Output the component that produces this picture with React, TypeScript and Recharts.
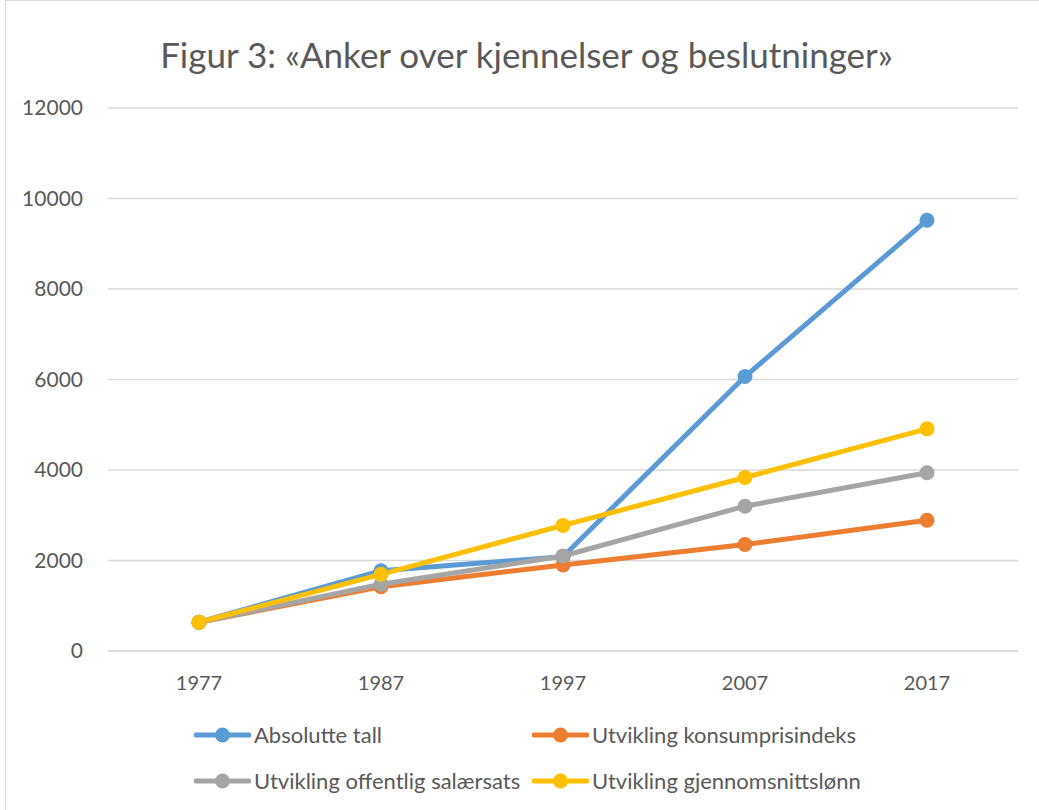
import React from 'react';
import { LineChart, Line, XAxis, YAxis, CartesianGrid } from 'recharts';

const years = ['1977', '1987', '1997', '2007', '2017'];
const absoluteValues = [635, 1775, 2085, 6065, 9520];
const kpiValues = [635, 1420, 1900, 2355, 2890];
const salaerValues = [635, 1475, 2100, 3200, 3940];
const lonnValues = [635, 1695, 2775, 3835, 4910];
const yTicks = [0, 2000, 4000, 6000, 8000, 10000, 12000];

const seriesNames = [
  'Absolutte tall',
  'Utvikling konsumprisindeks',
  'Utvikling offentlig salærsats',
  'Utvikling gjennomsnittslønn',
];
const colors = ['#5B9BD5', '#ED7D31', '#A5A5A5', '#FFC000'];
const keys = ['abs', 'kpi', 'sal', 'lonn'];

const data = years.map((y, i) => ({
  year: y,
  abs: absoluteValues[i],
  kpi: kpiValues[i],
  sal: salaerValues[i],
  lonn: lonnValues[i],
}));

const FONT = 'Lato, "Open Sans", sans-serif';
const TEXT = '#595959';

const LegendItem = ({ name, color, left, centerY }: { name: string; color: string; left: number; centerY: number }) => (
  <div style={{ position: 'absolute', left, top: centerY - 15, display: 'flex', alignItems: 'center', height: 30 }}>
    <svg width={57} height={20} style={{ display: 'block' }}>
      <line x1={2} y1={10} x2={55} y2={10} stroke={color} strokeWidth={5} strokeLinecap="round" />
      <circle cx={28.5} cy={10} r={7.5} fill={color} />
    </svg>
    <span style={{ marginLeft: 3, fontSize: 22, color: TEXT, fontFamily: FONT, whiteSpace: 'nowrap', lineHeight: '30px' }}>{name}</span>
  </div>
);

export default function App() {
  return (
    <div style={{ position: 'absolute', left: 0, top: 0, width: 1039, height: 810, background: '#fff', overflow: 'hidden' }}>
      <div
        style={{
          position: 'absolute',
          left: 5,
          top: 0,
          width: 1040,
          height: 812,
          border: '1.5px solid #d9d9d9',
          boxSizing: 'border-box',
        }}
      />
      <div
        style={{
          position: 'absolute',
          left: 0,
          width: 1039,
          top: 32,
          textAlign: 'center',
          fontFamily: FONT,
          fontSize: 35,
          color: TEXT,
          lineHeight: '44px',
          paddingLeft: 14,
          boxSizing: 'border-box',
          whiteSpace: 'nowrap',
        }}
      >
        Figur 3: «Anker over kjennelser og beslutninger»
      </div>
      <div style={{ position: 'absolute', left: 0, top: 0 }}>
        <LineChart width={1039} height={810} data={data} margin={{ top: 108, right: 21, left: 0, bottom: 119 }}>
          <CartesianGrid vertical={false} stroke="#d9d9d9" strokeWidth={1.5} />
          <XAxis
            dataKey="year"
            padding={{ left: 91, right: 91 }}
            axisLine={{ stroke: '#d9d9d9', strokeWidth: 1.5 }}
            tickLine={false}
            tickSize={0}
            tickMargin={25}
            height={40}
            tick={{ fill: TEXT, fontSize: 20, fontFamily: FONT }}
          />
          <YAxis
            domain={[0, 12000]}
            ticks={yTicks}
            interval={0}
            axisLine={false}
            tickLine={false}
            tickSize={0}
            tickMargin={25}
            width={108}
            tick={{ fill: TEXT, fontSize: 21, fontFamily: FONT }}
          />
          {keys.map((k, i) => (
            <Line
              key={k}
              type="linear"
              dataKey={k}
              name={seriesNames[i]}
              stroke={colors[i]}
              strokeWidth={5}
              dot={{ r: 7.5, fill: colors[i], stroke: colors[i], strokeWidth: 0 }}
              activeDot={false}
              isAnimationActive={false}
            />
          ))}
        </LineChart>
      </div>
      <LegendItem name={seriesNames[0]} color={colors[0]} left={194} centerY={735} />
      <LegendItem name={seriesNames[1]} color={colors[1]} left={532} centerY={735} />
      <LegendItem name={seriesNames[2]} color={colors[2]} left={194} centerY={781} />
      <LegendItem name={seriesNames[3]} color={colors[3]} left={532} centerY={781} />
    </div>
  );
}
